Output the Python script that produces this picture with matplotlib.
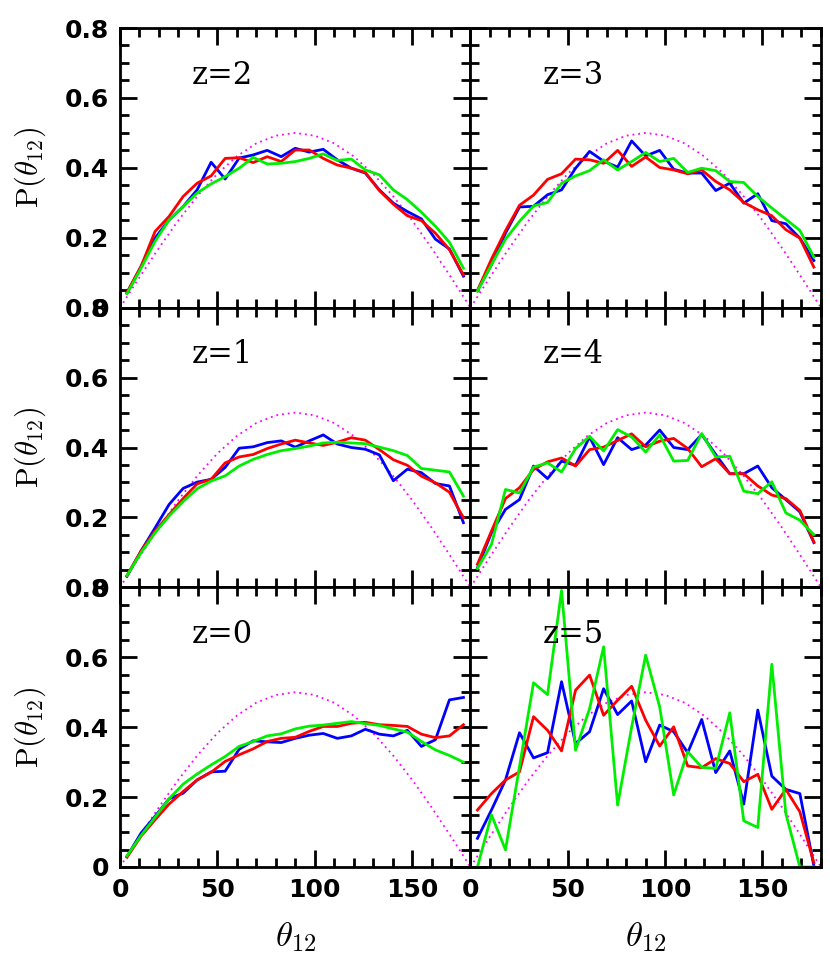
import matplotlib
matplotlib.use("Agg")
import matplotlib.pyplot as plt
import numpy as np
from matplotlib.ticker import MultipleLocator, FixedLocator, FixedFormatter

plt.rcParams["mathtext.fontset"] = "cm"

# bin centres (25 bins of 7.2 deg)
theta = np.linspace(3.6, 176.4, 25)

# isotropic expectation, every 10 deg
iso_theta = [0, 10, 20, 30, 40, 50, 60, 70, 80, 90, 100, 110, 120, 130, 140, 150, 160, 170, 180]
iso_p = [0, 0.087, 0.171, 0.25, 0.321, 0.383, 0.433, 0.47, 0.492, 0.5,
         0.492, 0.47, 0.433, 0.383, 0.321, 0.25, 0.171, 0.087, 0]

z2_blue = [0.042, 0.118, 0.199, 0.251, 0.289, 0.337, 0.416, 0.368, 0.428, 0.437, 0.450, 0.432, 0.456,
           0.445, 0.453, 0.423, 0.399, 0.385, 0.337, 0.299, 0.275, 0.254, 0.196, 0.168, 0.090]
z2_red = [0.044, 0.118, 0.218, 0.261, 0.318, 0.356, 0.377, 0.427, 0.429, 0.415, 0.432, 0.418, 0.451,
          0.451, 0.427, 0.408, 0.399, 0.387, 0.335, 0.296, 0.263, 0.249, 0.213, 0.166, 0.094]
z2_green = [0.040, 0.113, 0.190, 0.251, 0.289, 0.328, 0.354, 0.375, 0.399, 0.430, 0.411, 0.413, 0.418,
            0.427, 0.440, 0.421, 0.425, 0.394, 0.380, 0.337, 0.309, 0.273, 0.233, 0.187, 0.113]

z3_blue = [0.049, 0.123, 0.213, 0.288, 0.290, 0.323, 0.337, 0.399, 0.447, 0.419, 0.402, 0.477, 0.434,
           0.450, 0.396, 0.385, 0.385, 0.335, 0.356, 0.299, 0.326, 0.249, 0.240, 0.199, 0.135]
z3_red = [0.049, 0.139, 0.220, 0.293, 0.322, 0.367, 0.383, 0.425, 0.423, 0.413, 0.450, 0.404, 0.431,
          0.401, 0.394, 0.383, 0.394, 0.361, 0.337, 0.301, 0.280, 0.263, 0.223, 0.199, 0.116]
z3_green = [0.047, 0.123, 0.196, 0.247, 0.291, 0.301, 0.356, 0.377, 0.392, 0.423, 0.394, 0.418, 0.444,
            0.418, 0.427, 0.387, 0.399, 0.392, 0.361, 0.358, 0.318, 0.285, 0.253, 0.221, 0.145]

z1_blue = [0.032, 0.104, 0.170, 0.237, 0.283, 0.301, 0.309, 0.343, 0.398, 0.402, 0.414, 0.419, 0.401,
           0.419, 0.436, 0.410, 0.400, 0.395, 0.379, 0.305, 0.338, 0.328, 0.297, 0.290, 0.185]
z1_red = [0.034, 0.104, 0.161, 0.208, 0.254, 0.296, 0.309, 0.356, 0.373, 0.380, 0.397, 0.410, 0.421,
          0.413, 0.406, 0.415, 0.428, 0.421, 0.394, 0.365, 0.349, 0.318, 0.299, 0.272, 0.199]
z1_green = [0.034, 0.099, 0.156, 0.204, 0.245, 0.282, 0.304, 0.319, 0.347, 0.366, 0.380, 0.391, 0.397,
            0.404, 0.413, 0.415, 0.413, 0.411, 0.401, 0.391, 0.377, 0.340, 0.335, 0.330, 0.261]

z4_blue = [0.056, 0.156, 0.223, 0.251, 0.347, 0.311, 0.361, 0.349, 0.430, 0.351, 0.428, 0.394, 0.407,
           0.450, 0.400, 0.394, 0.437, 0.380, 0.325, 0.325, 0.347, 0.285, 0.251, 0.216, 0.128]
z4_red = [0.066, 0.161, 0.254, 0.285, 0.337, 0.359, 0.370, 0.347, 0.394, 0.401, 0.420, 0.439, 0.402,
          0.418, 0.426, 0.397, 0.345, 0.368, 0.325, 0.325, 0.290, 0.264, 0.254, 0.220, 0.130]
z4_green = [0.054, 0.123, 0.280, 0.270, 0.344, 0.356, 0.330, 0.397, 0.432, 0.390, 0.451, 0.430, 0.387,
            0.436, 0.361, 0.363, 0.440, 0.373, 0.375, 0.275, 0.268, 0.302, 0.213, 0.192, 0.151]

z0_blue = [0.030, 0.097, 0.145, 0.195, 0.211, 0.249, 0.272, 0.274, 0.337, 0.361, 0.358, 0.356, 0.368,
           0.377, 0.382, 0.368, 0.375, 0.394, 0.380, 0.375, 0.391, 0.345, 0.364, 0.478, 0.485]
z0_red = [0.028, 0.088, 0.135, 0.180, 0.216, 0.249, 0.271, 0.302, 0.321, 0.338, 0.359, 0.368, 0.371,
          0.388, 0.402, 0.402, 0.411, 0.414, 0.407, 0.405, 0.402, 0.380, 0.370, 0.375, 0.407]
z0_green = [0.032, 0.090, 0.142, 0.195, 0.237, 0.266, 0.292, 0.316, 0.345, 0.359, 0.375, 0.381, 0.395,
            0.403, 0.406, 0.411, 0.416, 0.410, 0.405, 0.395, 0.386, 0.359, 0.335, 0.319, 0.300]

z5_blue = [0.082, 0.163, 0.249, 0.384, 0.312, 0.327, 0.530, 0.353, 0.387, 0.510, 0.436, 0.475, 0.301,
           0.406, 0.387, 0.327, 0.422, 0.270, 0.332, 0.180, 0.449, 0.260, 0.222, 0.210, 0.003]
z5_red = [0.163, 0.210, 0.249, 0.272, 0.430, 0.391, 0.332, 0.506, 0.549, 0.434, 0.477, 0.517, 0.420,
          0.346, 0.401, 0.289, 0.284, 0.310, 0.296, 0.244, 0.265, 0.165, 0.222, 0.158, 0.012]
z5_green = [0.0, 0.149, 0.049, 0.287, 0.527, 0.493, 0.791, 0.334, 0.453, 0.630, 0.177, 0.400, 0.606,
            0.458, 0.206, 0.330, 0.285, 0.282, 0.441, 0.132, 0.113, 0.580, 0.153, 0.0, 0.0]

panels = [
    ("z=2", z2_blue, z2_red, z2_green), ("z=3", z3_blue, z3_red, z3_green),
    ("z=1", z1_blue, z1_red, z1_green), ("z=4", z4_blue, z4_red, z4_green),
    ("z=0", z0_blue, z0_red, z0_green), ("z=5", z5_blue, z5_red, z5_green),
]

fig, axes = plt.subplots(3, 2, figsize=(8.3, 9.56), dpi=100, sharex=True, sharey=True)
fig.subplots_adjust(left=0.1446, right=0.989, bottom=0.0931, top=0.9707, wspace=0, hspace=0)

for ax, (name, blue, red, green) in zip(axes.flat, panels):
    ax.plot(iso_theta, iso_p, color="#ff00ff", lw=1.3, ls=(0, (1, 2.2)))
    ax.plot(theta, blue, color="#0000ff", lw=2.0)
    ax.plot(theta, red, color="#ff0000", lw=2.0)
    ax.plot(theta, green, color="#00ee00", lw=2.0)
    ax.text(37, 0.665, name, family="DejaVu Serif", fontsize=22, va="center")

    ax.set_xlim(0, 180)
    ax.set_ylim(0, 0.8)
    ax.xaxis.set_major_locator(FixedLocator([0, 50, 100, 150]))
    ax.xaxis.set_major_formatter(FixedFormatter(["0", "50", "100", "150"]))
    ax.xaxis.set_minor_locator(MultipleLocator(10))
    ax.yaxis.set_major_locator(FixedLocator([0, 0.2, 0.4, 0.6, 0.8]))
    ax.yaxis.set_major_formatter(FixedFormatter(["0", "0.2", "0.4", "0.6", "0.8"]))
    ax.yaxis.set_minor_locator(MultipleLocator(0.05))
    ax.tick_params(which="both", direction="in", top=True, right=True, width=2)
    ax.tick_params(which="major", length=12.5, pad=8, labelsize=18)
    ax.tick_params(which="minor", length=6.5)
    for lab in ax.get_xticklabels() + ax.get_yticklabels():
        lab.set_fontweight("bold")
    for sp in ax.spines.values():
        sp.set_linewidth(2)

for ax in axes[:, 0]:
    ax.text(-0.257, 0.5, r"$\mathrm{P}(\theta_{12})$", transform=ax.transAxes,
            rotation=90, ha="center", va="center", fontsize=22)
for ax in axes[-1, :]:
    ax.text(0.5, -0.25, r"$\theta_{12}$", transform=ax.transAxes,
            ha="center", va="center", fontsize=25)

plt.savefig("out.png", dpi=100)
